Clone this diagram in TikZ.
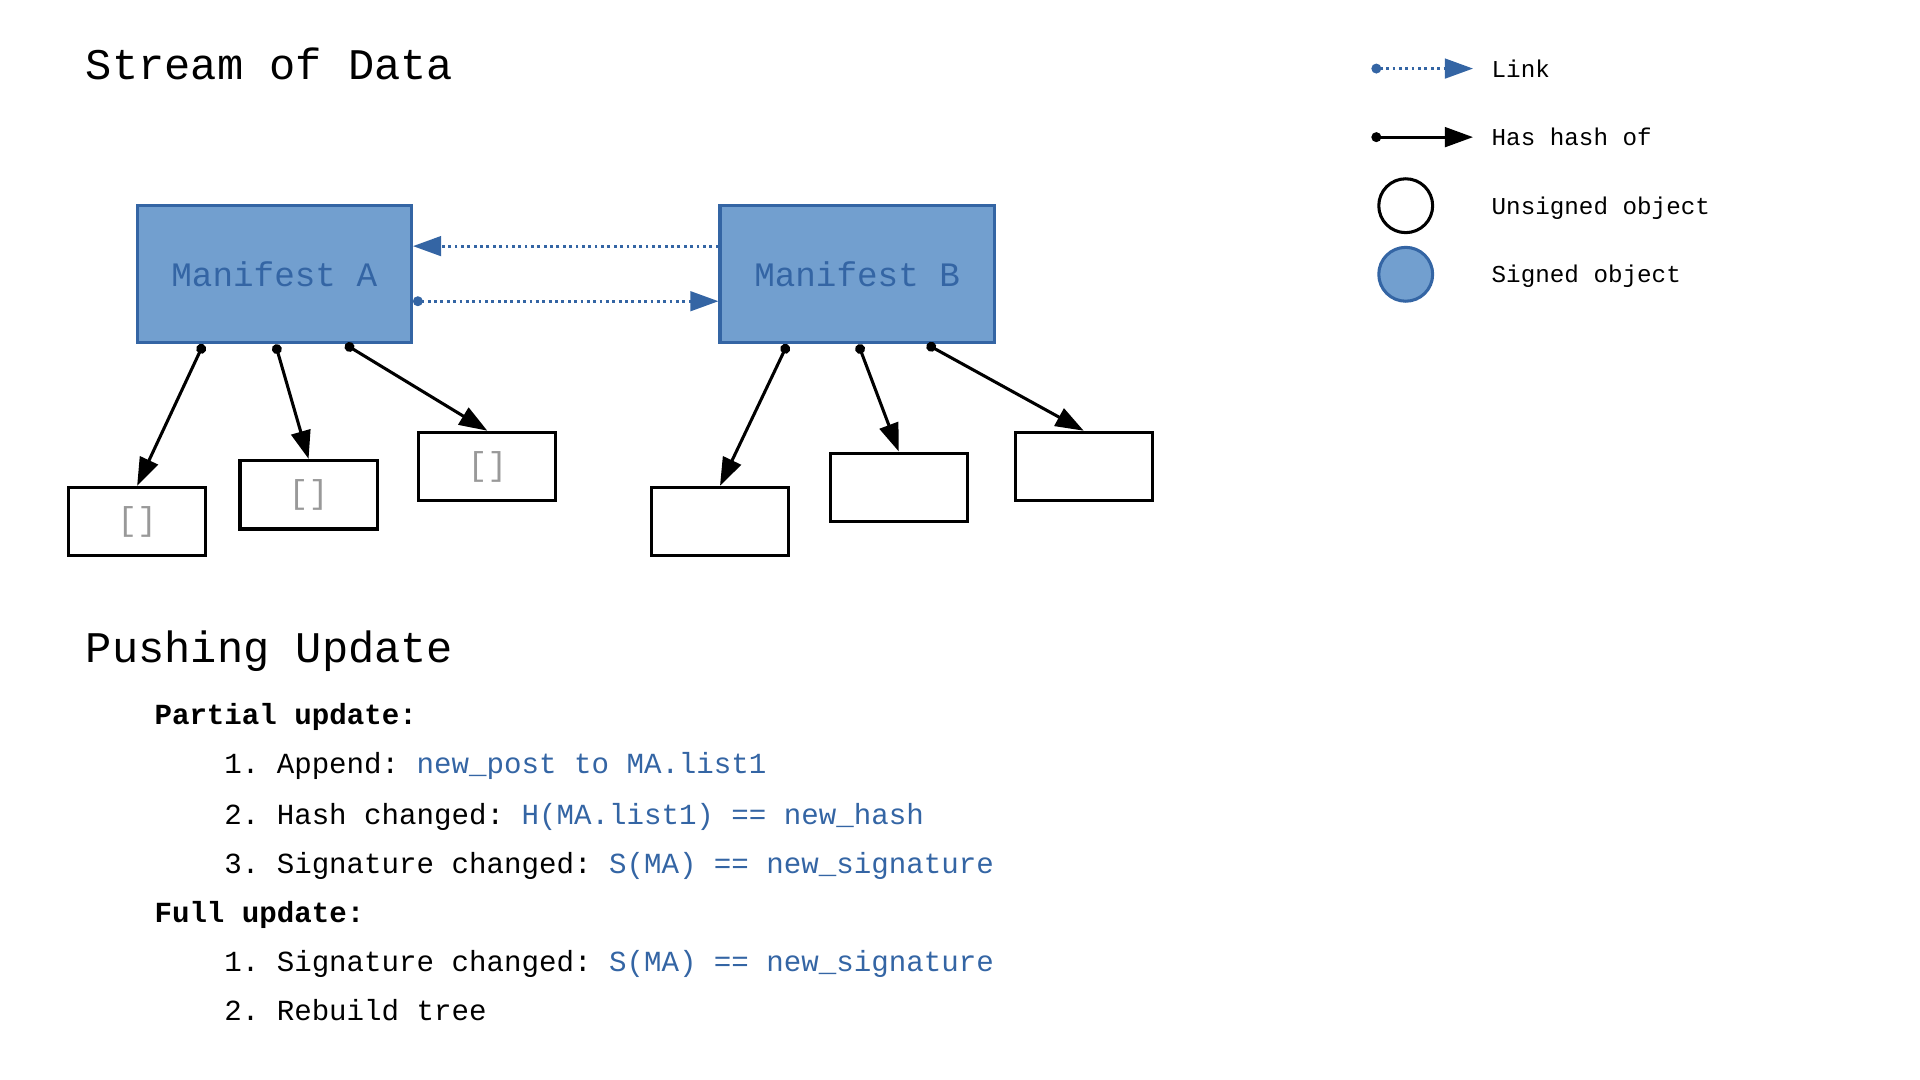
\documentclass[tikz,border=0pt]{standalone}
\usepackage{fontspec}
\setmainfont{Liberation Mono}
\usepackage{xcolor}
\usetikzlibrary{arrows.meta}
\definecolor{fillblue}{HTML}{729FCF}
\definecolor{lineblue}{HTML}{3465A4}
\definecolor{muted}{HTML}{999999}
\tikzset{
  manifest/.style={draw=lineblue, fill=fillblue, line width=2.5pt, minimum width=224pt, minimum height=112pt, text=lineblue, font=\fontsize{28}{32}\selectfont},
  leaf/.style={draw=black, line width=2.5pt, minimum width=112pt, minimum height=56pt, inner sep=0pt, text=muted, font=\fontsize{27}{32}\selectfont},
  hashline/.style={draw=black, line width=2.5pt, {Circle[length=8pt]}-{Triangle[length=23pt,width=16pt]}},
  linkline/.style={draw=lineblue, line width=2.3pt, dash pattern=on 2.3pt off 2.9pt, -{Triangle[length=23pt,width=16pt]}},
  dotstart/.style={{Circle[length=8pt]}-{Triangle[length=23pt,width=16pt]}},
  title/.style={anchor=base west, inner sep=0pt, font=\fontsize{35.7}{40}\selectfont},
  item/.style={anchor=base west, inner sep=0pt, font=\fontsize{23.8}{28}\selectfont},
  legtext/.style={anchor=base west, inner sep=0pt, font=\fontsize{19.8}{24}\selectfont},
}

\begin{document}
\frenchspacing
\begin{tikzpicture}[x=1pt, y=-1pt]
  \useasboundingbox (0,0) rectangle (1568,882);
  % titles
  \node[title] (streamtitle) at (70,65) {Stream of Data};
  \node[title] (pushtitle) at (70,541) {Pushing Update};

  % manifests
  \node[manifest] (manA) at (224,224) {Manifest A};
  \node[manifest] (manB) at (700,224) {Manifest B};
  \draw[linkline] ([yshift=23pt]manB.west) -- ([yshift=23pt]manA.east);
  \draw[linkline,dotstart] ([yshift=-22pt]manA.east) -- ([yshift=-22pt]manB.west);

  % children of A
  \node[leaf] (a1) at (112,426) {[]};
  \node[leaf] (a2) at (252,404) {[]};
  \node[leaf] (a3) at (398,381) {[]};
  \draw[hashline] ([xshift=-58pt]manA.south) -- (a1.north);
  \draw[hashline] ([xshift=1pt]manA.south) -- (a2.north);
  \draw[hashline] ([xshift=58pt]manA.south) -- (a3.north);

  % children of B
  \node[leaf] (b1) at (588,426) {};
  \node[leaf] (b2) at (734,398) {};
  \node[leaf] (b3) at (885,381) {};
  \draw[hashline] ([xshift=-57pt]manB.south) -- (b1.north);
  \draw[hashline] ([xshift=1pt]manB.south) -- (b2.north);
  \draw[hashline] ([xshift=57pt]manB.south) -- (b3.north);

  % legend
  \coordinate (lk1) at (1120,56);
  \coordinate (lk2) at (1203,56);
  \draw[linkline,dotstart] (lk1) -- (lk2);
  \node[legtext] (lklab) at (1218,63) {Link};
  \coordinate (hs1) at (1120,112);
  \coordinate (hs2) at (1203,112);
  \draw[hashline] (hs1) -- (hs2);
  \node[legtext] (hslab) at (1218,119) {Has hash of};
  \node[circle, draw=black, line width=2.5pt, minimum size=44pt] (unsig) at (1148,168) {};
  \node[legtext] (unsiglab) at (1218,175) {Unsigned object};
  \node[circle, draw=lineblue, fill=fillblue, line width=2.5pt, minimum size=44pt] (sig) at (1148,224) {};
  \node[legtext] (siglab) at (1218,231) {Signed object};

  % update steps
  \node[item] (partial) at (126,592) {\bfseries Partial update:};
  \node[item] (p1) at (183,632) {1. Append: \textcolor{lineblue}{new\_post to MA.list1}};
  \node[item] (p2) at (183,673) {2. Hash changed: \textcolor{lineblue}{H(MA.list1) == new\_hash}};
  \node[item] (p3) at (183,713) {3. Signature changed: \textcolor{lineblue}{S(MA) == new\_signature}};
  \node[item] (full) at (126,753) {\bfseries Full update:};
  \node[item] (f1) at (183,793) {1. Signature changed: \textcolor{lineblue}{S(MA) == new\_signature}};
  \node[item] (f2) at (183,833) {2. Rebuild tree};
\end{tikzpicture}
\end{document}
